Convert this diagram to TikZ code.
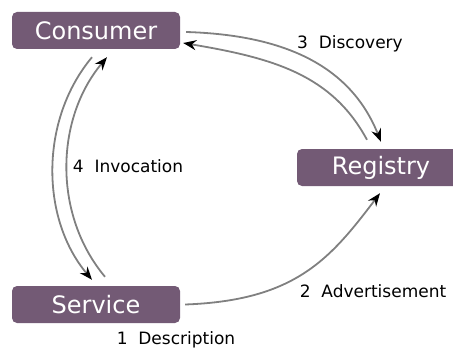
\documentclass[tikz,border=0pt]{standalone}
\usepackage{fontspec}
\setmainfont{DejaVu Sans}
\usetikzlibrary{arrows.meta}
\definecolor{boxpurple}{HTML}{735A75}
\definecolor{linegray}{HTML}{808080}
\tikzset{
  rolebox/.style={fill=boxpurple, text=white, rounded corners=5pt, minimum width=168pt,
    minimum height=37pt, inner sep=0pt, font=\fontsize{24}{28}\selectfont},
  steplabel/.style={font=\fontsize{17}{20}\selectfont, inner sep=0pt},
  flow/.style={linegray, line width=1.8pt, -{Stealth[black,length=13pt,width=10pt]}}
}
\begin{document}
\begin{tikzpicture}[x=1pt,y=1pt]
            \useasboundingbox (0,0) rectangle (453,349);
            %boxes
            \node[rolebox] (consumer) at (96,318.5) {Consumer};
            \node[rolebox] (registry) at (381,181.5) {Registry};
            \node[rolebox] (service) at (96,44.5) {Service};
            %labels
            \node[steplabel] (lbldisc) at (350,305) {3\ \ Discovery};
            \node[steplabel] (lblinv) at (128,183) {4\ \ Invocation};
            \node[steplabel] (lbladv) at (373,58) {2\ \ Advertisement};
            \node[steplabel] (lbldesc) at (176,9) {1\ \ Description};
            %discovery
            \draw[flow] ([xshift=6pt,yshift=-1.5pt]consumer.east) .. controls +(100,-3) and +(-30,75) .. ([yshift=7pt]registry.north);
            \draw[flow] ([xshift=-14pt,yshift=9pt]registry.north) .. controls +(-35,65) and +(90,-15) .. ([xshift=3pt,yshift=-12.5pt]consumer.east);
            %invocation
            \draw[flow] ([xshift=-4pt,yshift=-8pt]consumer.south) .. controls +(-52,-62) and +(-52,62) .. ([xshift=-4pt,yshift=6pt]service.north);
            \draw[flow] ([xshift=9pt,yshift=9pt]service.north) .. controls +(-52,62) and +(-52,-62) .. ([xshift=11pt,yshift=-8pt]consumer.south);
            %advertisement
            \draw[flow] ([xshift=5pt]service.east) .. controls +(110,4) and +(-50,-66) .. ([xshift=-1pt,yshift=-7pt]registry.south);
        \end{tikzpicture}
\end{document}
